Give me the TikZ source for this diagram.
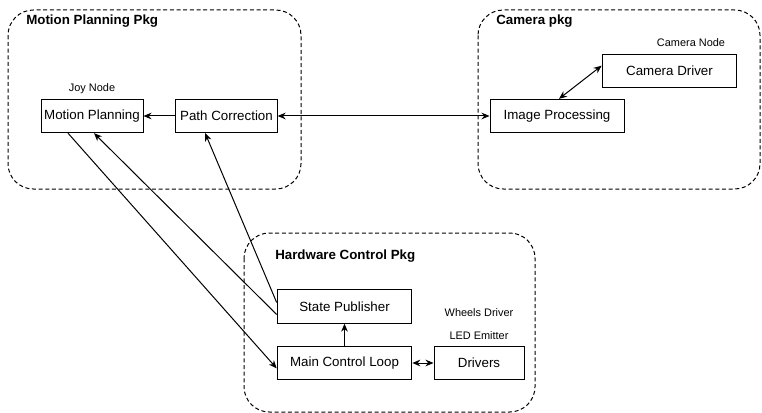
\documentclass[tikz,border=0pt]{standalone}
\usepackage{fontspec}
\setmainfont{Liberation Sans}
\usetikzlibrary{arrows.meta, calc, positioning}
\tikzset{
  pkg/.style    = {draw, densely dashed, line width=0.75pt, rounded corners=19pt},
  pkgtitle/.style = {font=\bfseries\fontsize{10}{12}\selectfont, anchor=west, inner sep=0pt},
  box/.style    = {draw, line width=0.75pt, minimum height=25pt, inner sep=2pt,
                   font=\fontsize{10}{12}\selectfont},
  lbl/.style    = {font=\fontsize{8.2}{10}\selectfont, inner sep=0pt},
  link/.style   = {-{Stealth[length=6pt,width=5pt]}, line width=0.75pt},
  both/.style   = {{Stealth[length=6pt,width=5pt]}-{Stealth[length=6pt,width=5pt]}, line width=0.75pt},
}

\begin{document}
\begin{tikzpicture}[x=0.75pt, y=-0.75pt]
  \useasboundingbox (0,0) rectangle (762,413);
  % packages
  \draw[pkg] (8,10) rectangle (301,189);
  \draw[pkg] (478,10) rectangle (760,189);
  \draw[pkg] (244,233) rectangle (535,412);
  \node[pkgtitle] (mptitle) at (26,21) {Motion Planning Pkg};
  \node[pkgtitle] (camtitle) at (496,21) {Camera pkg};
  \node[pkgtitle] (hwtitle) at (275,256) {Hardware Control Pkg};
  % nodes
  \node[box, minimum width=76.5pt] (mp)  at (92,116)    {Motion Planning};
  \node[box, minimum width=76pt]   (pc)  at (226.5,116) {Path Correction};
  \node[box, minimum width=100.5pt] (ip) at (557,116)   {Image Processing};
  \node[box, minimum width=101pt]  (cd)  at (669.5,71)  {Camera Driver};
  \node[box, minimum width=101pt]  (sp)  at (344.5,306.5) {State Publisher};
  \node[box, minimum width=101pt]  (mcl) at (344.5,363) {Main Control Loop};
  \node[box, minimum width=67.5pt] (drv) at (479,363)   {Drivers};
  % small labels
  \node[lbl] (joy)    at (92,89)   {Joy Node};
  \node[lbl] (camnd)  at (691,43)  {Camera Node};
  \node[lbl] (wheels) at (479,313) {Wheels Driver};
  \node[lbl] (led)    at (479,336) {LED Emitter};
  % connectors
  \draw[link] (pc.west) -- (mp.east);
  \draw[both] (pc.east) -- (ip.west);
  \draw[both] ([xshift=1.5pt]ip.north) -- ([yshift=4pt]cd.west);
  \draw[link] ([xshift=-18pt]mp.south) -- ([yshift=-4pt]mcl.west);
  \draw[link] ([yshift=-6pt]sp.west) -- ([xshift=1.5pt]mp.south);
  \draw[link] ([yshift=3pt]sp.west) -- ([xshift=-16pt]pc.south);
  \draw[link] (mcl.north) -- (sp.south);
  \draw[both] (mcl.east) -- (drv.west);
\end{tikzpicture}
\end{document}
